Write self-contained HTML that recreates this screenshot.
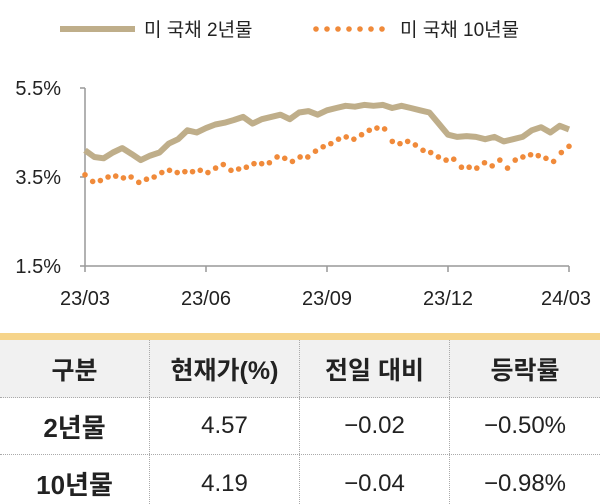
<!DOCTYPE html>
<html><head><meta charset="utf-8"><style>
body{margin:0;width:600px;height:504px;background:#fff;overflow:hidden;font-family:"Liberation Sans","Noto Sans CJK KR",sans-serif;}
svg{position:absolute;left:0;top:0}
.tbl{position:absolute;left:0;top:333px;width:600px;height:171px;overflow:hidden}
.gold{height:7px;background:#F6D48A}
.row{display:flex;align-items:center;border-bottom:1px dotted #aaa;box-sizing:border-box}
.row div{flex:0 0 150px;text-align:center;border-right:1px dotted #aaa;height:100%;display:flex;align-items:center;justify-content:center;box-sizing:border-box}
.row div:last-child{border-right:none}
.hdr{background:#F1F1F1;font-size:25px;font-weight:bold;color:#222;height:58px}
.dat{font-size:24px;color:#222;height:57px}
.dat div:first-child{font-weight:bold;font-size:26px}
</style></head><body>
<svg width="600" height="330">
<g>
<line x1="60" y1="29" x2="135" y2="29" stroke="#BFAE8A" stroke-width="6"/>
<text x="144" y="36" font-size="19" fill="#222">미 국채 2년물</text>
<g id="legdots"></g>
<text x="400" y="36" font-size="19" fill="#222">미 국채 10년물</text>
</g>
<g id="axes"></g><g id="s2"></g><g id="s10"></g>
</svg>
<div class="tbl">
<div class="gold"></div>
<div class="row hdr"><div>구분</div><div>현재가(%)</div><div>전일 대비</div><div>등락률</div></div>
<div class="row dat"><div>2년물</div><div>4.57</div><div>−0.02</div><div>−0.50%</div></div>
<div class="row dat" style="border-bottom:none"><div>10년물</div><div>4.19</div><div>−0.04</div><div>−0.98%</div></div>
</div>
<script>
const xTickLabels=["23/03","23/06","23/09","23/12","24/03"];
const yTickValues=[1.5,3.5,5.5];
const series2y=[4.10,3.95,3.92,4.05,4.15,4.02,3.88,3.98,4.05,4.25,4.35,4.55,4.50,4.60,4.68,4.72,4.78,4.85,4.70,4.80,4.85,4.90,4.80,4.95,4.98,4.90,5.00,5.05,5.10,5.08,5.12,5.10,5.12,5.05,5.10,5.05,5.00,4.95,4.70,4.45,4.40,4.42,4.40,4.35,4.40,4.30,4.35,4.40,4.55,4.62,4.50,4.65,4.57];
const series10y=[3.55,3.40,3.42,3.50,3.52,3.48,3.50,3.38,3.45,3.50,3.60,3.65,3.60,3.62,3.62,3.65,3.60,3.70,3.78,3.65,3.68,3.72,3.80,3.80,3.82,3.95,3.92,3.85,3.95,3.95,4.08,4.18,4.25,4.35,4.40,4.35,4.45,4.55,4.60,4.58,4.30,4.25,4.30,4.22,4.10,4.05,3.95,3.88,3.90,3.72,3.72,3.70,3.82,3.75,3.88,3.70,3.88,3.95,4.00,3.98,3.92,3.85,4.05,4.19];
const NS="http://www.w3.org/2000/svg";
const X0=85,X1=569,Y0=266,Y1=88,VMIN=1.5,VMAX=5.5;
const yS=v=>Y0-(v-VMIN)/(VMAX-VMIN)*(Y0-Y1);
const xS=(i,n)=>X0+i/(n-1)*(X1-X0);
function mk(t,a,p){const e=document.createElementNS(NS,t);for(const k in a)e.setAttribute(k,a[k]);p.appendChild(e);return e;}
const ax=document.getElementById('axes');
let e=mk('line',{x1:X0,y1:Y1,x2:X0,y2:Y0,stroke:'#999','stroke-width':1.5},ax);


e=mk('line',{x1:X0,y1:Y0,x2:X1,y2:Y0,stroke:'#999','stroke-width':1.5},ax);


yTickValues.forEach(v=>{
 mk('line',{x1:X0-5,y1:yS(v),x2:X0,y2:yS(v),stroke:'#999','stroke-width':1.5},ax);
 const t=mk('text',{x:X0-24,y:yS(v)+7,'font-size':20,fill:'#222','text-anchor':'end'},ax);
 t.textContent=v.toFixed(1)+'%';
 
 
});
xTickLabels.forEach((l,i)=>{
 const x=xS(i,xTickLabels.length);
 mk('line',{x1:x,y1:Y0,x2:x,y2:Y0+6,stroke:'#999','stroke-width':1.5},ax);
 const t=mk('text',{x:Math.min(x,566),y:305,'font-size':20,fill:'#222','text-anchor':'middle'},ax);
 t.textContent=l;
 
 
});
const pts=series2y.map((v,i)=>xS(i,series2y.length).toFixed(1)+','+yS(v).toFixed(1)).join(' ');
const pl=mk('polyline',{points:pts,fill:'none',stroke:'#BFAE8A','stroke-width':6,'stroke-linejoin':'round'},document.getElementById('s2'));


const g10=document.getElementById('s10');
series10y.forEach((v,i)=>{
 const c=mk('circle',{cx:xS(i,series10y.length),cy:yS(v),r:2.8,fill:'#F08A3A'},g10);
 
 
});
const ld=document.getElementById('legdots');
for(let i=0;i<7;i++){mk('circle',{cx:316+i*11,cy:29,r:2.8,fill:'#F08A3A'},ld);}
</script>
</body></html>
